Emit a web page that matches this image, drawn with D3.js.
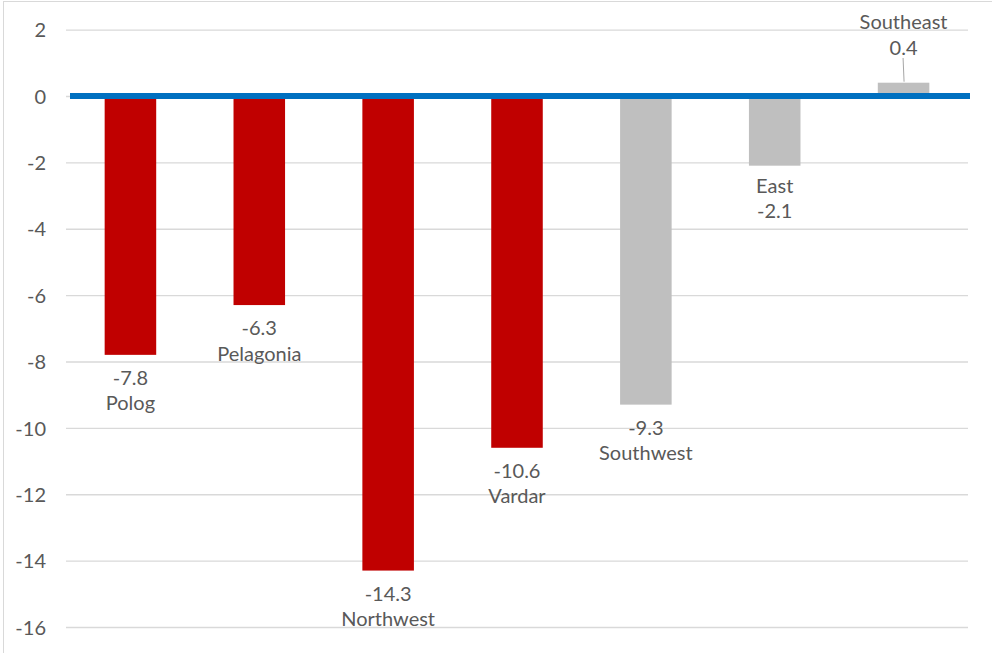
<!DOCTYPE html>
<html>
<head>
<meta charset="utf-8">
<script src="https://cdn.jsdelivr.net/npm/d3@7/dist/d3.min.js"></script>
<style>
  html, body { margin: 0; padding: 0; background: #fff; }
  svg { display: block; }
  text { font-family: "Lato", "Open Sans", sans-serif; fill: #595959; }
</style>
</head>
<body>
<svg id="chart" width="992" height="653"></svg>
<script>
// Regional change by planning region
const regions = ["Polog", "Pelagonia", "Northwest", "Vardar", "Southwest", "East", "Southeast"];
const changes = [-7.8, -6.3, -14.3, -10.6, -9.3, -2.1, 0.4];
const highlighted = ["Polog", "Pelagonia", "Northwest", "Vardar"];
const yTicks = [2, 0, -2, -4, -6, -8, -10, -12, -14, -16];

const svg = d3.select("#chart");
const W = 992, H = 653;
// plain hyphen for negatives
const fmt = v => d3.format(".1f")(v).replace("\u2212", "-");
const fmtInt = v => d3.format("d")(v).replace("\u2212", "-");

// frame edges
svg.append("line").attr("x1", 3.5).attr("x2", 3.5).attr("y1", 1).attr("y2", H)
  .attr("stroke", "#d9d9d9").attr("stroke-width", 1);
svg.append("line").attr("x1", 3).attr("x2", W).attr("y1", 1.5).attr("y2", 1.5)
  .attr("stroke", "#d9d9d9").attr("stroke-width", 1);

const x = d3.scaleBand().domain(regions).range([66, 968])
  .paddingInner(0.6).paddingOuter(0.3);
const y = d3.scaleLinear().domain([-16, 2]).range([627, 29.6]);

// horizontal gridlines with labels on the left
const yAxis = d3.axisLeft(y).tickValues(yTicks).tickSize(-(968 - 66)).tickPadding(20)
  .tickFormat(fmtInt);
const gy = svg.append("g").attr("transform", "translate(66,0)").call(yAxis);
gy.select(".domain").remove();
gy.selectAll(".tick line").attr("stroke", "#d9d9d9").attr("stroke-width", 1.3);
gy.selectAll(".tick text").attr("font-size", 20).attr("fill", "#595959")
  .attr("x", -20).attr("dy", "0.36em");

const data = regions.map((r, i) => ({ region: r, value: changes[i] }));

// bars
svg.append("g").selectAll("rect").data(data).join("rect")
  .attr("x", d => x(d.region))
  .attr("width", x.bandwidth())
  .attr("y", d => y(Math.max(0, d.value)))
  .attr("height", d => Math.abs(y(d.value) - y(0)))
  .attr("fill", d => highlighted.includes(d.region) ? "#c00000" : "#bfbfbf");

// zero line
svg.append("line").attr("x1", 70).attr("x2", 970)
  .attr("y1", y(0)).attr("y2", y(0))
  .attr("stroke", "#0070c0").attr("stroke-width", 6);

// data labels
const nameFirst = new Set(["East", "Southeast"]);
const labels = svg.append("g").attr("font-size", 20).attr("text-anchor", "middle");
data.forEach(d => {
  const cx = x(d.region) + x.bandwidth() / 2;
  const val = fmt(d.value);
  const lines = nameFirst.has(d.region) ? [d.region, val] : [val, d.region];
  let base;
  if (d.value >= 0) {
    // label sits above the bar with a short leader line
    base = 29;
    labels.append("line")
      .attr("x1", cx + 0.5).attr("x2", cx - 0.5)
      .attr("y1", y(d.value) - 1).attr("y2", 58)
      .attr("stroke", "#a6a6a6").attr("stroke-width", 1);
  } else {
    base = y(d.value) + (nameFirst.has(d.region) ? 27 : 30);
  }
  lines.forEach((t, k) => {
    labels.append("text").attr("x", cx).attr("y", base + k * 25.5).text(t);
  });
});
</script>
</body>
</html>
